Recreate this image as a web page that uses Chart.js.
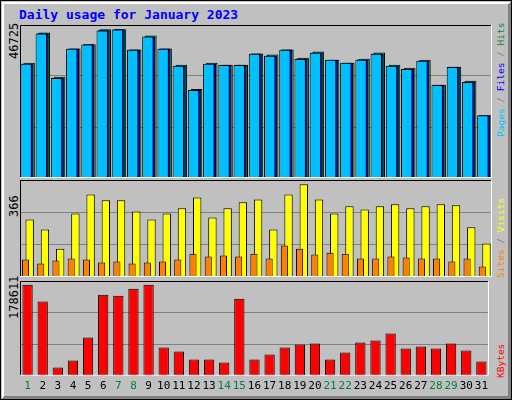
<!DOCTYPE html>
<html><head><meta charset="utf-8">
<script src="https://cdn.jsdelivr.net/npm/chart.js@4/dist/chart.umd.min.js"></script>
<style>
body{margin:0;width:512px;height:400px;overflow:hidden;background:#fff}
#box{position:absolute;left:0;top:0;width:510px;height:398px;border:1px solid #000;background:#c0c0c0}
#bev{position:absolute;left:1px;top:1px;width:504px;height:392px;border-top:2px solid #fff;border-left:2px solid #fff;border-right:3px solid #808080;border-bottom:3px solid #808080}
canvas{position:absolute}
.t{position:absolute;font-family:"DejaVu Sans Mono",monospace;white-space:nowrap;line-height:1}
.rot{transform-origin:left top;transform:rotate(-90deg)}
</style></head><body>
<div id="box"><div id="bev"></div></div>
<div class="t" style="left:19px;top:8px;color:#0000ff;font-weight:bold;font-size:13px">Daily usage for January 2023</div>
<div class="t rot" style="left:8px;top:59px;font-size:12px;color:#000">46725</div>
<div class="t rot" style="left:8px;top:217px;font-size:12px;color:#000">366</div>
<div class="t rot" style="left:8px;top:319px;font-size:12px;color:#000">178611</div>
<div class="t rot" style="left:496px;top:137px;font-size:9.5px"><span style="color:#00c0ff">Pages</span><span style="color:#808080"> / </span><span style="color:#0000ff">Files</span><span style="color:#808080"> / </span><span style="color:#008040">Hits</span></div>
<div class="t rot" style="left:496px;top:278px;font-size:9.5px"><span style="color:#ff8000">Sites</span><span style="color:#808080"> / </span><span style="color:#ffff00">Visits</span></div>
<div class="t rot" style="left:496px;top:378px;font-size:9.5px;color:#ff0000">KBytes</div>
<canvas id="c1" style="left:20px;top:25px;width:472px;height:153px" width="472" height="153"></canvas>
<canvas id="c2" style="left:20px;top:180px;width:472px;height:97px" width="472" height="97"></canvas>
<canvas id="c3" style="left:20px;top:281px;width:472px;height:116px" width="472" height="116"></canvas>
<script>
const days=['1','2','3','4','5','6','7','8','9','10','11','12','13','14','15','16','17','18','19','20','21','22','23','24','25','26','27','28','29','30','31'];
const weekend=['1','7','8','14','15','21','22','28','29'];
const hits=[36256,45770,31817,40695,42069,46725,46725,40378,44817,40695,35622,28011,36256,35622,35622,39109,38793,40378,37841,39743,37207,36256,37524,39426,35622,34670,37207,29280,34988,30548,19766];
const files=[35950,45470,31510,40695,42069,46420,46725,40378,44510,40695,35320,27700,35950,35622,35622,39109,38490,40378,37540,39440,37207,36256,37220,39120,35320,34370,36900,29280,34988,30240,19766];
const pages=[35900,45400,31450,40650,42000,46350,46650,40300,44450,40600,35250,27650,35900,35550,35550,39050,38400,40300,37450,39350,37150,36200,37150,39050,35250,34300,36850,29200,34900,30200,19700];
const visits=[227,188,112,251,326,303,303,259,227,251,271,314,235,271,295,306,188,326,366,306,251,279,267,279,287,271,279,287,283,196,132];
const sites=[69,53,65,73,69,57,61,53,57,61,69,92,81,85,81,92,73,124,112,89,96,92,73,73,81,77,73,73,61,73,41];
const kbytes=[178611,145380,16300,29990,74970,159070,157110,170800,178611,55410,47590,31940,31940,26080,151240,31940,41720,55410,61280,63230,31940,45630,65190,69100,82790,53460,57370,53460,63230,49540,28030];
const max1=48100,max2=383,max3=185800;

const frame={id:'frame',afterDraw(c){const a=c.chartArea,x=c.ctx;x.save();x.lineWidth=1;
  x.strokeStyle='#000';x.beginPath();x.moveTo(a.left+.5,a.bottom);x.lineTo(a.left+.5,a.top+.5);x.lineTo(a.right,a.top+.5);x.stroke();
  x.strokeStyle='#fff';x.beginPath();x.moveTo(a.right-.5,a.top);x.lineTo(a.right-.5,a.bottom-.5);x.lineTo(a.left,a.bottom-.5);x.stroke();x.restore();}};

function opts(max,showX){return{animation:false,responsive:false,events:[],
  layout:{padding:0},plugins:{legend:{display:false},tooltip:{enabled:false}},
  scales:{x:{display:showX,grid:{display:false,drawTicks:false},border:{display:false},
      ticks:{autoSkip:false,maxRotation:0,padding:4,font:{family:'DejaVu Sans Mono',size:11},color:c=>weekend.includes(days[c.index])?'#008040':'#000'}},
    y:{display:true,min:0,max:max,ticks:{display:false,stepSize:max/3},border:{display:false},grid:{color:'#808080',drawTicks:false}}}}}

const bar=(data,color,order,cp,bp)=>({data:data,backgroundColor:color,borderColor:'#000',borderWidth:1,order:order,categoryPercentage:cp,barPercentage:bp});
new Chart(document.getElementById('c1'),{type:'bar',plugins:[frame],data:{labels:days,datasets:[
  bar(hits,'#008040',3,0.3,7.5),bar(files,'#0000ff',2,0.3,7.5),bar(pages,'#00c0ff',1,0.3,7.5)]},options:opts(max1,false)});
new Chart(document.getElementById('c2'),{type:'bar',plugins:[frame],data:{labels:days,datasets:[
  bar(visits,'#ffff00',2,0.55,2),bar(sites,'#ff8000',1,0.55,1.7)]},options:opts(max2,false)});
new Chart(document.getElementById('c3'),{type:'bar',plugins:[frame],data:{labels:days,datasets:[
  bar(kbytes,'#ff0000',1,0.68,1)]},options:opts(max3,true)});
</script></body></html>
